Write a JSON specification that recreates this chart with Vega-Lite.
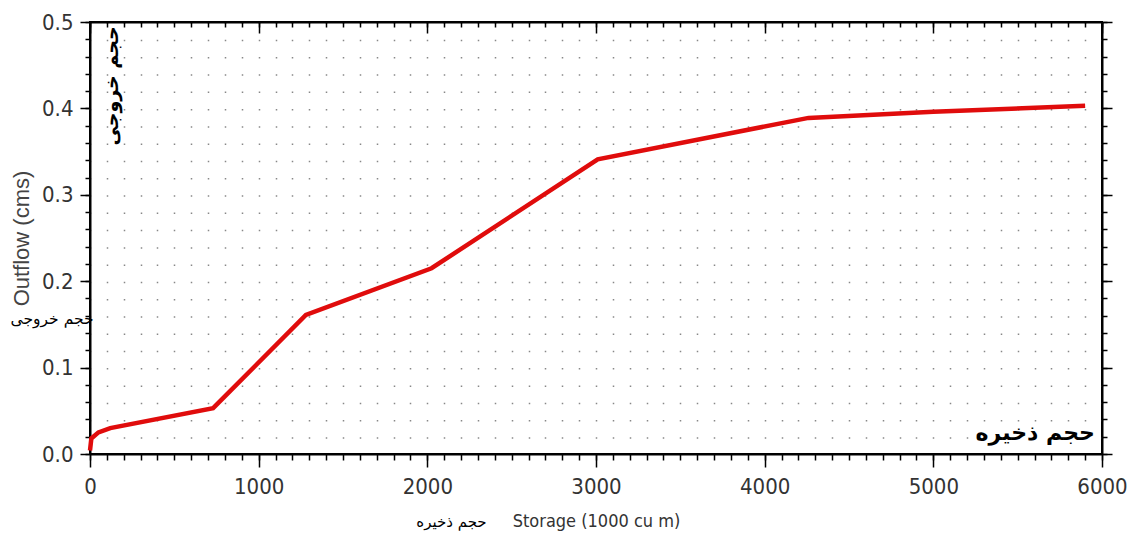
{
  "$schema": "https://vega.github.io/schema/vega-lite/v6.json",
  "width": 1012,
  "height": 432,
  "autosize": {"type": "none"},
  "padding": {"left": 90, "top": 22, "right": 25, "bottom": 86},
  "background": "white",
  "config": {
    "view": {"stroke": "black", "strokeWidth": 2},
    "axis": {"tickColor": "black", "tickWidth": 1.5, "domainColor": "black", "domainWidth": 2, "labelOverlap": false, "labelFlush": false}
  },
  "resolve": {"axis": {"x": "independent", "y": "independent"}},
  "layer": [
    {
      "data": {"values": [
        {"storage": 0, "outflow": 0.004},
        {"storage": 8, "outflow": 0.018},
        {"storage": 50, "outflow": 0.025},
        {"storage": 120, "outflow": 0.030},
        {"storage": 730, "outflow": 0.053},
        {"storage": 1280, "outflow": 0.161},
        {"storage": 2025, "outflow": 0.215},
        {"storage": 3010, "outflow": 0.341},
        {"storage": 4260, "outflow": 0.389},
        {"storage": 5000, "outflow": 0.396},
        {"storage": 5900, "outflow": 0.403}
      ]},
      "layer": [
        {
          "mark": {"type": "line", "color": "#e00c0c", "strokeWidth": 4.5},
          "encoding": {
            "x": {"field": "storage", "type": "quantitative", "scale": {"domain": [0, 6000], "nice": false, "zero": false},
              "axis": {"orient": "bottom", "values": [0, 1000, 2000, 3000, 4000, 5000, 6000], "format": "d", "tickSize": 13, "domain": true, "grid": false,
                "labelFont": "DejaVu Sans Condensed, Liberation Sans, sans-serif", "labelFontSize": 22, "labelColor": "#333", "labelPadding": 9,
                "title": "Storage (1000 cu m)", "titleFont": "DejaVu Sans Condensed, Liberation Sans, sans-serif", "titleFontSize": 18, "titleFontWeight": "normal", "titleColor": "#333", "titlePadding": 15}},
            "y": {"field": "outflow", "type": "quantitative", "scale": {"domain": [0, 0.5], "nice": false},
              "axis": {"orient": "left", "values": [0, 0.1, 0.2, 0.3, 0.4, 0.5], "format": ".1f", "tickSize": 10, "domain": true, "grid": false,
                "labelFont": "DejaVu Sans Condensed, Liberation Sans, sans-serif", "labelFontSize": 22, "labelColor": "#333", "labelPadding": 7,
                "title": "Outflow (cms)", "titleFont": "Liberation Sans, DejaVu Sans, sans-serif", "titleFontSize": 22, "titleFontWeight": "normal", "titleColor": "#444", "titlePadding": 8}}
          }
        },
        {
          "mark": {"type": "line", "opacity": 0},
          "encoding": {
            "x": {"field": "storage", "type": "quantitative", "scale": {"domain": [0, 6000], "nice": false, "zero": false},
              "axis": {"orient": "bottom", "values": [0,100,200,300,400,500,600,700,800,900,1000,1100,1200,1300,1400,1500,1600,1700,1800,1900,2000,2100,2200,2300,2400,2500,2600,2700,2800,2900,3000,3100,3200,3300,3400,3500,3600,3700,3800,3900,4000,4100,4200,4300,4400,4500,4600,4700,4800,4900,5000,5100,5200,5300,5400,5500,5600,5700,5800,5900,6000],
                "tickSize": 6, "labels": false, "domain": false, "grid": true, "gridDash": [1.5, 15.78], "gridColor": "#888", "gridWidth": 1.5, "title": null}},
            "y": {"field": "outflow", "type": "quantitative", "scale": {"domain": [0, 0.5], "nice": false},
              "axis": {"orient": "left", "values": [0,0.02,0.04,0.06,0.08,0.1,0.12,0.14,0.16,0.18,0.2,0.22,0.24,0.26,0.28,0.3,0.32,0.34,0.36,0.38,0.4,0.42,0.44,0.46,0.48,0.5],
                "tickSize": 5, "labels": false, "domain": false, "grid": false, "title": null}}
          }
        },
        {
          "mark": {"type": "line", "opacity": 0},
          "encoding": {
            "x": {"field": "storage", "type": "quantitative", "scale": {"domain": [0, 6000], "nice": false, "zero": false},
              "axis": {"orient": "top", "values": [0,100,200,300,400,500,600,700,800,900,1000,1100,1200,1300,1400,1500,1600,1700,1800,1900,2000,2100,2200,2300,2400,2500,2600,2700,2800,2900,3000,3100,3200,3300,3400,3500,3600,3700,3800,3900,4000,4100,4200,4300,4400,4500,4600,4700,4800,4900,5000,5100,5200,5300,5400,5500,5600,5700,5800,5900,6000],
                "tickSize": -5, "labels": false, "domain": true, "grid": false, "title": null}},
            "y": {"field": "outflow", "type": "quantitative", "scale": {"domain": [0, 0.5], "nice": false},
              "axis": {"orient": "right", "values": [0,0.02,0.04,0.06,0.08,0.1,0.12,0.14,0.16,0.18,0.2,0.22,0.24,0.26,0.28,0.3,0.32,0.34,0.36,0.38,0.4,0.42,0.44,0.46,0.48,0.5],
                "tickSize": 5, "labels": false, "domain": true, "grid": false, "title": null}}
          }
        },
        {
          "mark": {"type": "line", "opacity": 0},
          "encoding": {
            "x": {"field": "storage", "type": "quantitative", "scale": {"domain": [0, 6000], "nice": false, "zero": false},
              "axis": {"orient": "top", "values": [0, 1000, 2000, 3000, 4000, 5000, 6000], "tickSize": -11, "labels": false, "domain": false, "grid": false, "title": null}},
            "y": {"field": "outflow", "type": "quantitative", "scale": {"domain": [0, 0.5], "nice": false},
              "axis": {"orient": "right", "values": [0, 0.1, 0.2, 0.3, 0.4, 0.5], "tickSize": 10, "labels": false, "domain": false, "grid": false, "title": null}}
          }
        }
      ]
    },
    {
      "data": {"values": [{"label": "حجم ذخیره"}]},
      "mark": {"type": "text", "font": "DejaVu Sans", "fontSize": 22, "fontWeight": "bold", "align": "right", "baseline": "middle", "color": "black"},
      "encoding": {
        "text": {"field": "label"},
        "x": {"datum": 5958, "type": "quantitative", "scale": {"domain": [0, 6000], "nice": false, "zero": false}, "axis": null},
        "y": {"datum": 0.0243, "type": "quantitative", "scale": {"domain": [0, 0.5], "nice": false}, "axis": null}
      }
    },
    {
      "data": {"values": [{"label": "حجم خروجی"}]},
      "mark": {"type": "text", "font": "DejaVu Sans", "fontSize": 19, "fontWeight": "bold", "align": "center", "baseline": "middle", "angle": 270, "color": "black"},
      "encoding": {
        "text": {"field": "label"},
        "x": {"datum": 130, "type": "quantitative", "scale": {"domain": [0, 6000], "nice": false, "zero": false}, "axis": null},
        "y": {"datum": 0.426, "type": "quantitative", "scale": {"domain": [0, 0.5], "nice": false}, "axis": null}
      }
    },
    {
      "data": {"values": [{"label": "حجم خروجی"}]},
      "mark": {"type": "text", "font": "DejaVu Sans", "fontSize": 15.5, "align": "center", "baseline": "middle", "color": "black"},
      "encoding": {
        "text": {"field": "label"},
        "x": {"datum": -225, "type": "quantitative", "scale": {"domain": [0, 6000], "nice": false, "zero": false}, "axis": null},
        "y": {"datum": 0.156, "type": "quantitative", "scale": {"domain": [0, 0.5], "nice": false}, "axis": null}
      }
    },
    {
      "data": {"values": [{"label": "حجم ذخیره"}]},
      "mark": {"type": "text", "font": "DejaVu Sans", "fontSize": 15, "align": "center", "baseline": "middle", "color": "black"},
      "encoding": {
        "text": {"field": "label"},
        "x": {"datum": 2143, "type": "quantitative", "scale": {"domain": [0, 6000], "nice": false, "zero": false}, "axis": null},
        "y": {"datum": -0.0787, "type": "quantitative", "scale": {"domain": [0, 0.5], "nice": false}, "axis": null}
      }
    }
  ]
}
